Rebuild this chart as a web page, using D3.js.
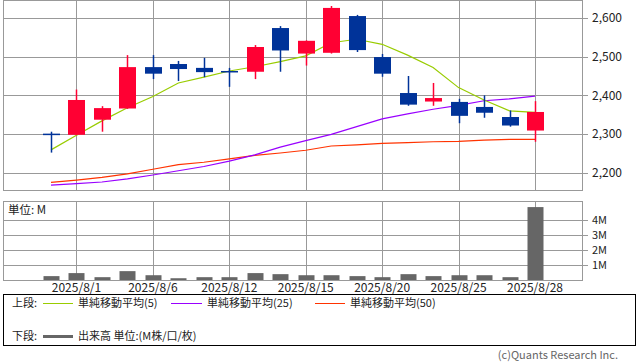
<!DOCTYPE html>
<html><head><meta charset="utf-8">
<script src="https://cdn.jsdelivr.net/npm/d3@7"></script>
<style>
html,body{margin:0;padding:0;background:#fff;}
svg{display:block;font-family:"Noto Sans CJK JP","Noto Sans",sans-serif;}
</style></head>
<body>
<svg id="c" width="638" height="362"></svg>
<script>
const dates = ["7/31","8/1","8/4","8/5","8/6","8/7","8/8","8/12","8/13","8/14","8/15","8/18","8/19","8/20","8/21","8/22","8/25","8/26","8/27","8/28"];
const open  = [2301,2298,2337,2366,2473,2481,2471,2463,2461,2574,2508,2510,2605,2499,2406,2384,2383,2370,2344,2309];
const high  = [2306,2415,2372,2504,2504,2489,2497,2471,2530,2579,2542,2631,2608,2507,2450,2432,2391,2400,2361,2385];
const low   = [2252,2297,2306,2365,2442,2437,2447,2422,2442,2461,2477,2508,2512,2448,2373,2373,2328,2342,2319,2280];
const close = [2300,2388,2367,2473,2456,2468,2460,2462,2525,2516,2541,2626,2517,2456,2376,2393,2347,2355,2322,2357];
const ma5   = [2259,2297,2334,2368,2397,2432,2447,2463,2474,2487,2502,2536,2545,2532,2504,2472,2420,2388,2360,2356];
const ma25  = [2168,2172,2176,2184,2194,2205,2216,2230,2246,2266,2283,2299,2319,2339,2352,2364,2374,2386,2391,2398];
const ma50  = [2175,2181,2188,2197,2209,2221,2227,2236,2245,2251,2258,2269,2272,2276,2278,2280,2281,2284,2286,2286];
const volume = [0.29,0.49,0.22,0.62,0.35,0.15,0.22,0.22,0.49,0.42,0.35,0.35,0.29,0.22,0.42,0.29,0.35,0.35,0.22,4.86];
const xTickDates = ["8/1","8/6","8/12","8/15","8/20","8/25","8/28"];
const priceTicks = [2200,2300,2400,2500,2600];
const volTicks = [1,2,3,4];

const svg = d3.select("#c");
const L = 3.5, R = 582.5;
const x = d3.scalePoint().domain(dates).range([L, R]).padding(1.865);
const y = d3.scaleLinear().domain([2154, 2645.2]).range([190.5, 0.5]);
const yv = d3.scaleLinear().domain([0, 5.23]).range([280.5, 201.5]);
const grid = "#999";
const UP = "#ff0033", DN = "#003399";
const bw = 17;

// ---- price panel
const g1 = svg.append("g");
g1.append("g").selectAll("line").data(priceTicks).join("line")
  .attr("x1", L).attr("x2", R + 5)
  .attr("y1", d => Math.round(y(d)) + 0.5).attr("y2", d => Math.round(y(d)) + 0.5)
  .attr("stroke", grid).attr("shape-rendering", "crispEdges");
g1.append("g").selectAll("line").data(xTickDates).join("line")
  .attr("x1", d => Math.round(x(d)) + 0.5).attr("x2", d => Math.round(x(d)) + 0.5)
  .attr("y1", 0.5).attr("y2", 190.5)
  .attr("stroke", grid).attr("shape-rendering", "crispEdges");
g1.append("rect").attr("x", L).attr("y", 0.5).attr("width", R - L).attr("height", 190)
  .attr("fill", "none").attr("stroke", grid).attr("shape-rendering", "crispEdges");
g1.append("g").selectAll("text").data(priceTicks).join("text")
  .attr("x", 592).attr("y", d => y(d)).attr("dy", "0.35em")
  .attr("font-size", 12).attr("fill", "#222").text(d => d3.format(",")(d));

// MA lines
const idx = d3.range(dates.length);
const lineOf = arr => d3.line().x(i => x(dates[i])).y(i => y(arr[i]));
[[ma50, "#ff3300"], [ma25, "#9900ff"], [ma5, "#99cc00"]].forEach(([arr, col]) => {
  g1.append("path").datum(idx).attr("d", lineOf(arr))
    .attr("fill", "none").attr("stroke", col).attr("stroke-width", 1.2);
});

// candles
const cg = g1.append("g").selectAll("g").data(idx).join("g");
cg.append("line")
  .attr("x1", i => Math.round(x(dates[i])) + 0.5).attr("x2", i => Math.round(x(dates[i])) + 0.5)
  .attr("y1", i => y(high[i])).attr("y2", i => y(low[i]))
  .attr("stroke", i => close[i] > open[i] ? UP : DN).attr("stroke-width", 1.5);
cg.append("rect")
  .attr("x", i => Math.round(x(dates[i])) + 0.5 - bw / 2)
  .attr("width", bw)
  .attr("y", i => y(Math.max(open[i], close[i])))
  .attr("height", i => Math.max(1.5, y(Math.min(open[i], close[i])) - y(Math.max(open[i], close[i]))))
  .attr("fill", i => close[i] > open[i] ? UP : DN);

// ---- volume panel
const g2 = svg.append("g");
g2.append("g").selectAll("line").data(volTicks).join("line")
  .attr("x1", L).attr("x2", R + 5)
  .attr("y1", d => Math.round(yv(d)) + 0.5).attr("y2", d => Math.round(yv(d)) + 0.5)
  .attr("stroke", grid).attr("shape-rendering", "crispEdges");
g2.append("g").selectAll("line").data(xTickDates).join("line")
  .attr("x1", d => Math.round(x(d)) + 0.5).attr("x2", d => Math.round(x(d)) + 0.5)
  .attr("y1", 201.5).attr("y2", 280.5)
  .attr("stroke", grid).attr("shape-rendering", "crispEdges");
g2.append("g").selectAll("rect").data(idx).join("rect")
  .attr("x", i => Math.round(x(dates[i])) + 0.5 - 8)
  .attr("width", 16)
  .attr("y", i => yv(volume[i]))
  .attr("height", i => yv(0) - yv(volume[i]))
  .attr("fill", "#666");
g2.append("rect").attr("x", L).attr("y", 201.5).attr("width", R - L).attr("height", 79)
  .attr("fill", "none").attr("stroke", grid).attr("shape-rendering", "crispEdges");
g2.append("g").selectAll("text").data(volTicks).join("text")
  .attr("x", 592).attr("y", d => yv(d)).attr("dy", "0.35em")
  .attr("font-size", 11).attr("fill", "#222").text(d => d + "M");
g2.append("text").attr("x", 8).attr("y", 210).attr("dy", "0.35em")
  .attr("font-size", 11.5).attr("fill", "#222").text("単位: M");

// x labels
svg.append("g").selectAll("text").data(xTickDates).join("text")
  .attr("x", d => x(d)).attr("y", 288).attr("dy", "0.35em")
  .attr("text-anchor", "middle").attr("font-size", 12).attr("fill", "#222")
  .text(d => "2025/" + d);

// ---- legend
const lg = svg.append("g");
lg.append("rect").attr("x", 3.5).attr("y", 294.5).attr("width", 632).attr("height", 51)
  .attr("fill", "none").attr("stroke", "#000").attr("shape-rendering", "crispEdges");
const legendItems = [
  {x1: 43, x2: 73, tx: 78, col: "#99cc00", label: "単純移動平均(5)"},
  {x1: 171, x2: 202, tx: 207, col: "#9900ff", label: "単純移動平均(25)"},
  {x1: 315, x2: 345, tx: 350, col: "#ff3300", label: "単純移動平均(50)"}
];
lg.append("text").attr("x", 12).attr("y", 303.5).attr("dy", "0.35em")
  .attr("font-size", 11).attr("fill", "#222").text("上段:");
legendItems.forEach(it => {
  lg.append("line").attr("x1", it.x1).attr("x2", it.x2).attr("y1", 303.5).attr("y2", 303.5)
    .attr("stroke", it.col).attr("stroke-width", 1);
  lg.append("text").attr("x", it.tx).attr("y", 303.5).attr("dy", "0.35em")
    .attr("font-size", 11).attr("fill", "#222").text(it.label);
});
lg.append("text").attr("x", 12).attr("y", 336.5).attr("dy", "0.35em")
  .attr("font-size", 11).attr("fill", "#222").text("下段:");
lg.append("line").attr("x1", 43).attr("x2", 73).attr("y1", 336.5).attr("y2", 336.5)
  .attr("stroke", "#666").attr("stroke-width", 3);
lg.append("text").attr("x", 78).attr("y", 336.5).attr("dy", "0.35em")
  .attr("font-size", 11).attr("fill", "#222").text("出来高 単位:(M株/口/枚)");

svg.append("text").attr("x", 618).attr("y", 355).attr("dy", "0.35em")
  .attr("text-anchor", "end").attr("font-size", 11).attr("fill", "#666")
  .text("(c)Quants Research Inc.");
</script>
</body></html>
